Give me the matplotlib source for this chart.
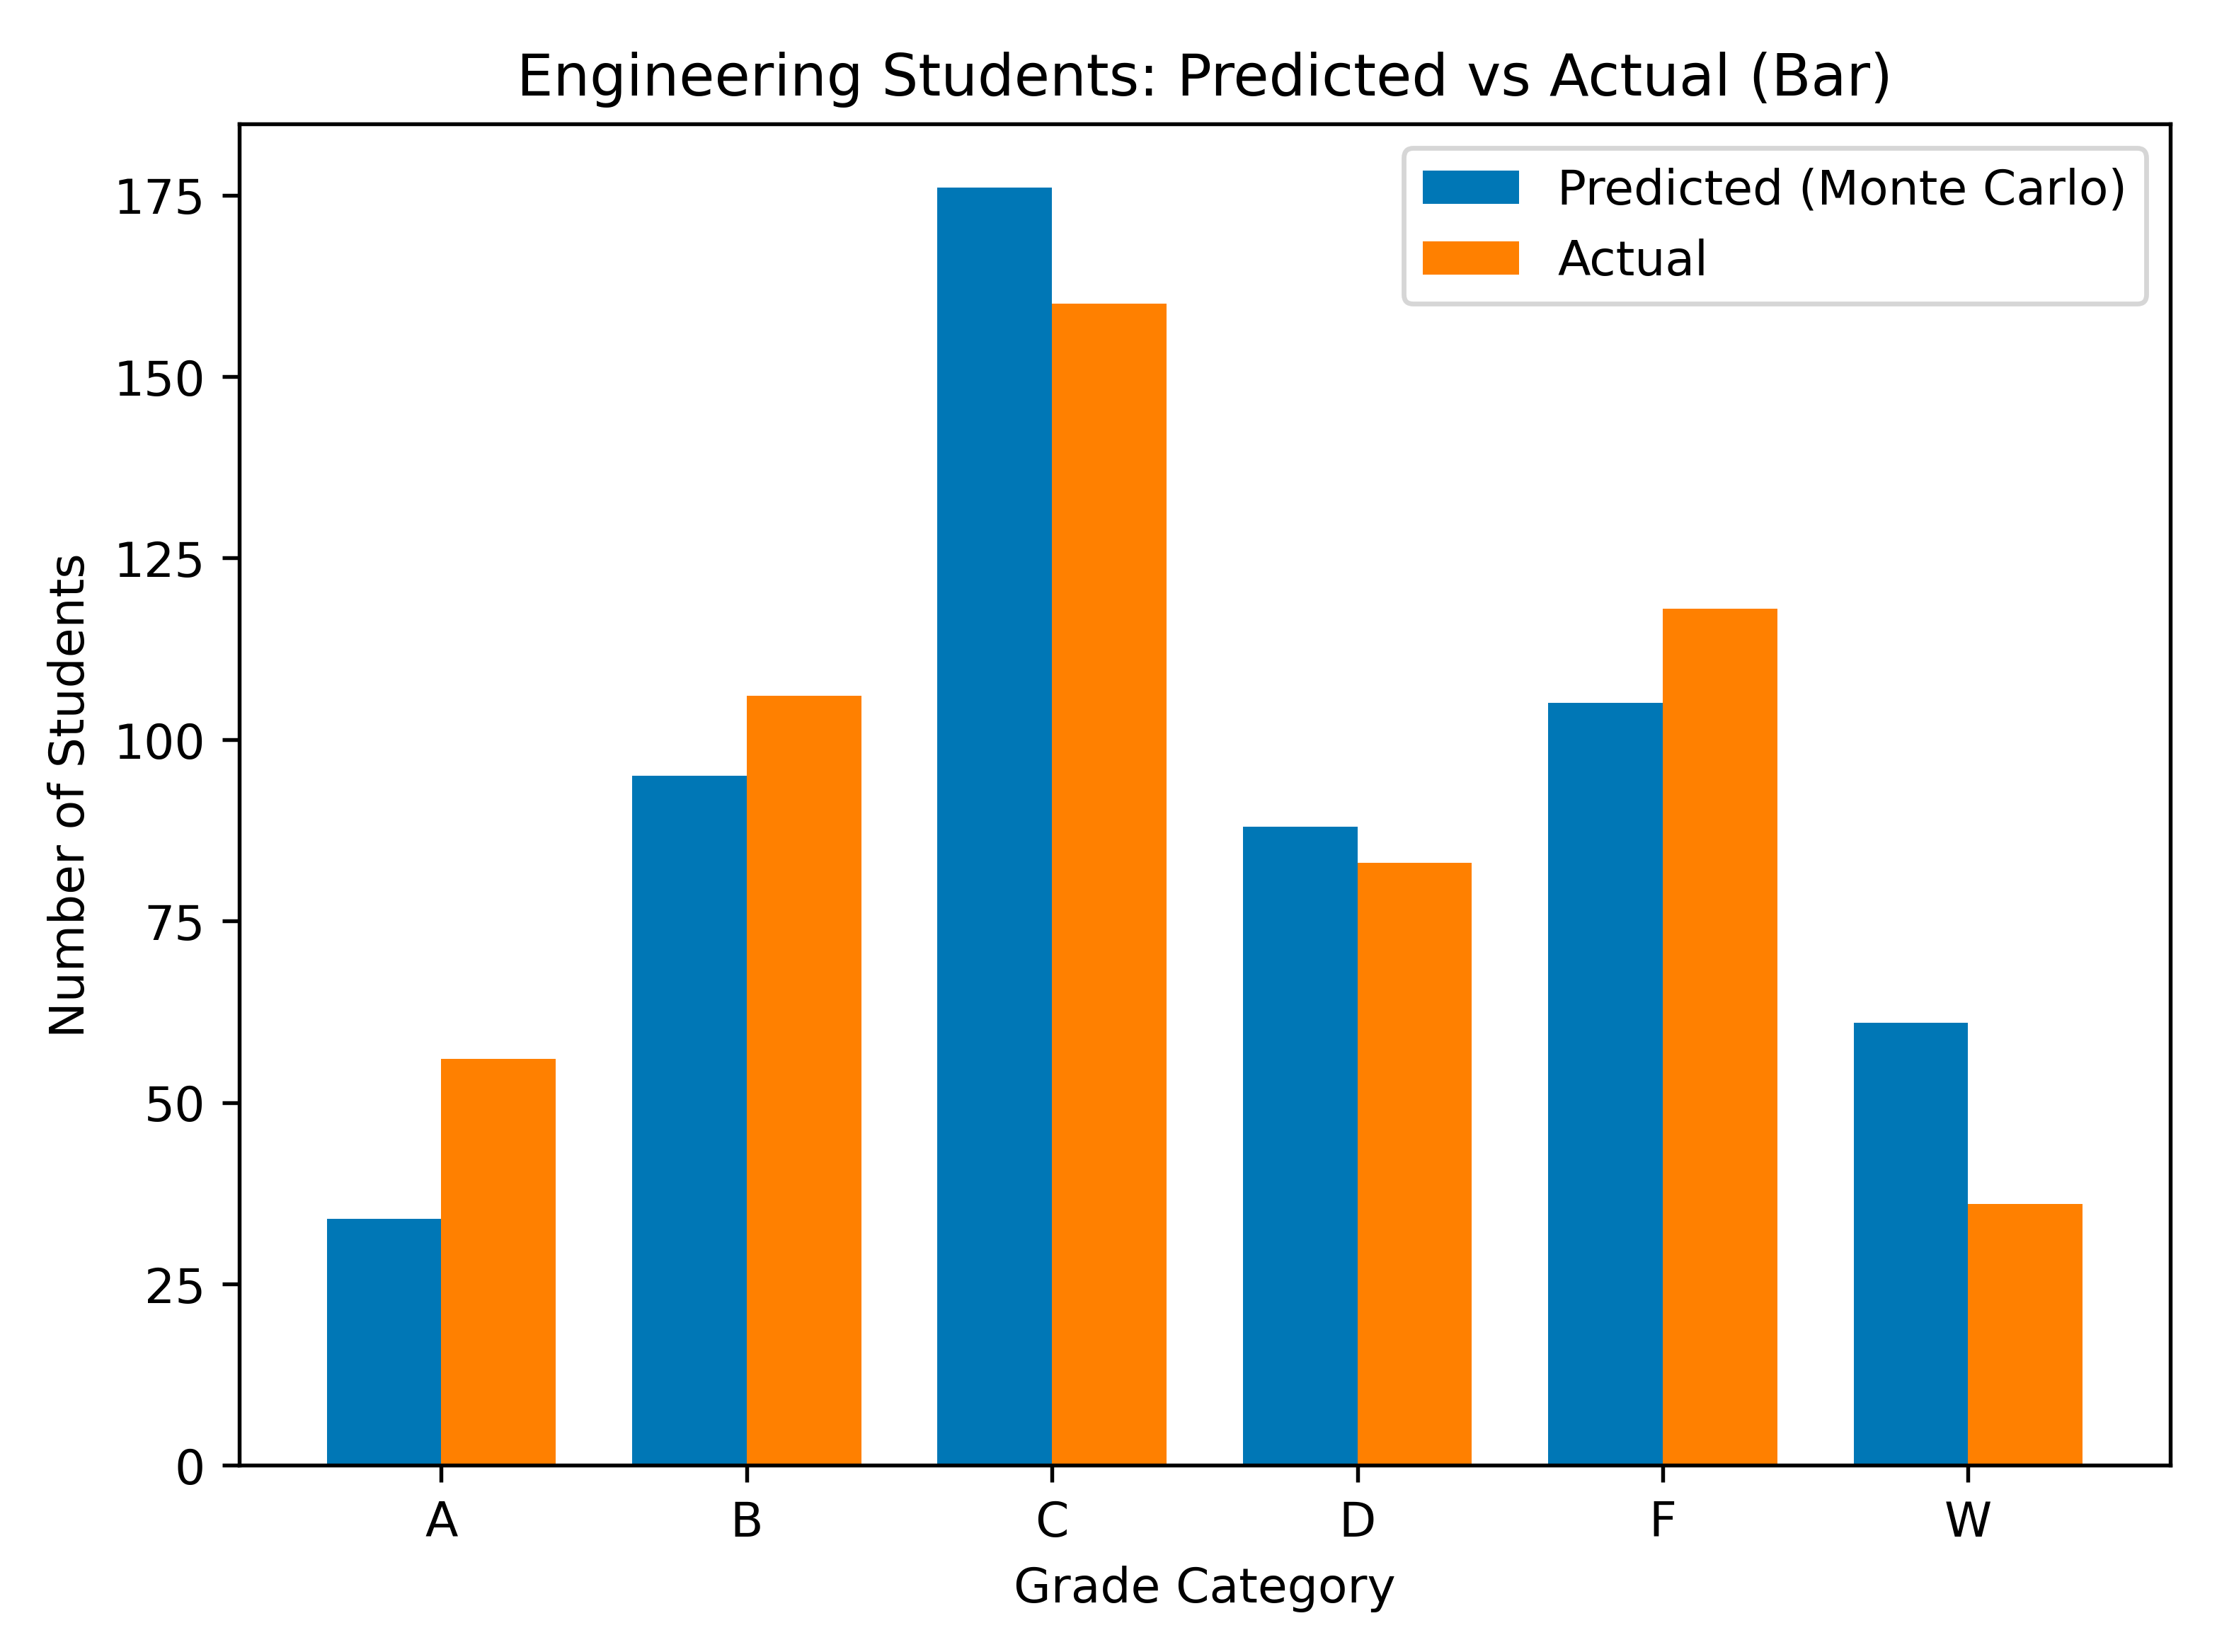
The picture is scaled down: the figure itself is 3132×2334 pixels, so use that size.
import numpy as np
import matplotlib
matplotlib.use('Agg')
import matplotlib.pyplot as plt

# grade categories and counts
grades = ['A', 'B', 'C', 'D', 'F', 'W']
predicted = [34, 95, 176, 88, 105, 61]
actual = [56, 106, 160, 83, 118, 36]

plt.rcParams['font.family'] = ['DejaVu Sans']

fig, ax = plt.subplots(figsize=(6.4, 4.771), dpi=489.375)

x = np.arange(len(grades))
w = 0.375
ax.bar(x - w/2, predicted, w, color='#0077B6', label='Predicted (Monte Carlo)')
ax.bar(x + w/2, actual, w, color='#FF8000', label='Actual')

ax.set_xticks(x)
ax.set_xticklabels(grades)
ax.set_xlabel('Grade Category')
ax.set_ylabel('Number of Students')
ax.set_title('Engineering Students: Predicted vs Actual (Bar)')
ax.legend(loc='upper right')

fig.subplots_adjust(left=0.1078, right=0.979, top=0.9247, bottom=0.1129)
fig.savefig('out.png')
